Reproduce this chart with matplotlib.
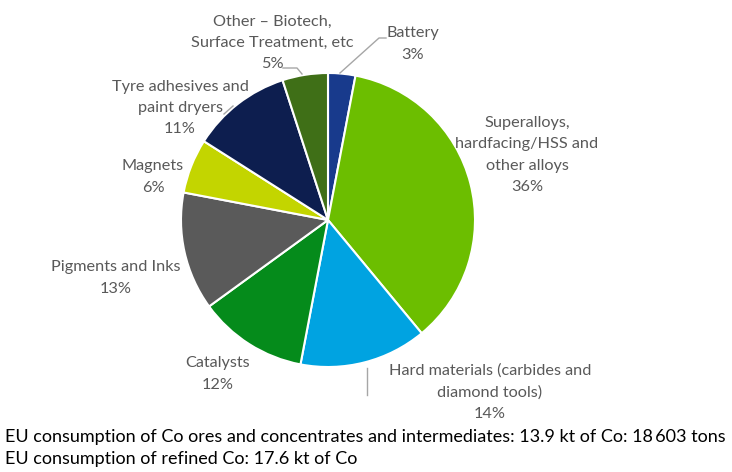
import numpy as np
import matplotlib.pyplot as plt

plt.rcParams['font.family'] = ['Lato', 'DejaVu Sans']

# cobalt end uses in the EU, clockwise from 12 o'clock
uses = ['Battery',
        'Superalloys,\nhardfacing/HSS and\nother alloys',
        'Hard materials (carbides and\ndiamond tools)',
        'Catalysts',
        'Pigments and Inks',
        'Magnets',
        'Tyre adhesives and\npaint dryers',
        'Other \u2013 Biotech,\nSurface Treatment, etc']
shares = [3, 36, 14, 12, 13, 6, 11, 5]
colors = ['#183A8C', '#6CBE00', '#00A3E1', '#058B1B',
          '#5A5A5A', '#C3D500', '#0D1E4F', '#3F6F17']

notes = ['EU consumption of Co ores and concentrates and intermediates: 13.9 kt of Co: 18\u2009603 tons',
         'EU consumption of refined Co: 17.6 kt of Co']

W, H = 732, 472
cx, cy, r = 328, 220, 147

fig = plt.figure(figsize=(W / 100, H / 100), dpi=100)
ax = fig.add_axes([(cx - r) / W, (H - cy - r) / H, 2 * r / W, 2 * r / H])
ax.pie(shares, colors=colors, startangle=90, counterclock=False,
       radius=1, wedgeprops=dict(edgecolor='white', linewidth=1.5))
ax.set_xlim(-1, 1)
ax.set_ylim(-1, 1)
ax.set_aspect('equal')
ax.axis('off')


def px(x, y):
    # pixel position -> pie data units
    return (x - cx) / r, (cy - y) / r


# label centres in pixels
label_pos = [(413, 44), (527, 155), (490, 392), (218, 374),
             (116, 278), (153, 177), (180, 108), (272, 43)]
for name, val, (lx, ly) in zip(uses, shares, label_pos):
    x, y = px(lx, ly)
    ax.text(x, y, f'{name}\n{val}%', ha='center', va='center',
            fontsize=11.7, color='#595959', linespacing=1.68, clip_on=False)

# leader lines
leaders = [[(386, 38), (379, 38), (340, 73)],
           [(283, 68), (297, 68), (302, 74)],
           [(224, 114), (233, 106)],
           [(367, 368), (367, 395)]]
for pts in leaders:
    xs, ys = zip(*[px(a, b) for a, b in pts])
    ax.plot(xs, ys, color='#A6A6A6', lw=1, clip_on=False)

fig.text(5 / W, 1 - 437 / H, notes[0], fontsize=13, color='black', va='center')
fig.text(5 / W, 1 - 459 / H, notes[1], fontsize=13, color='black', va='center')

fig.savefig('out.png', dpi=100, facecolor='white')
